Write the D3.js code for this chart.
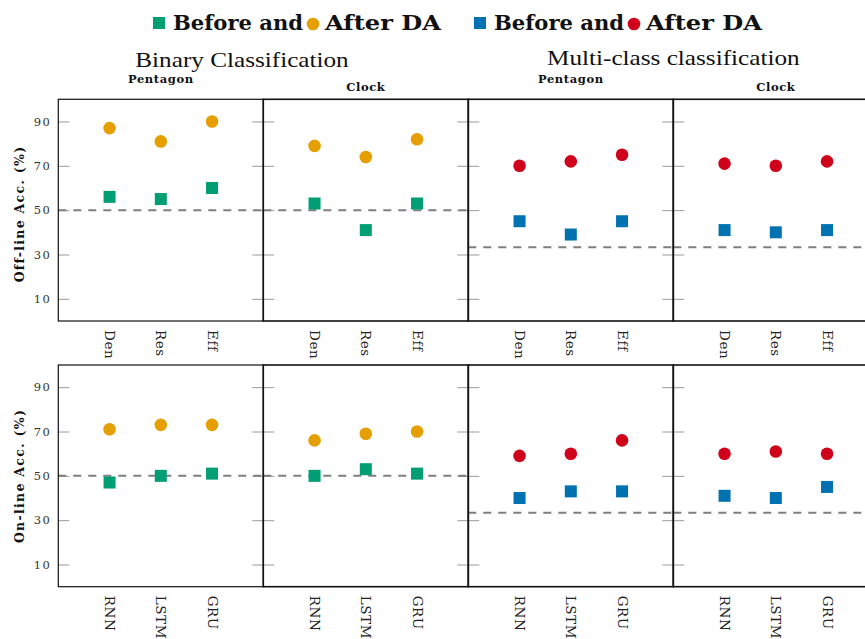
<!DOCTYPE html>
<html lang="en">
<head>
<meta charset="utf-8">
<title>Before / After DA accuracy</title>
<script src="https://cdn.jsdelivr.net/npm/d3@7"></script>
<style>
  body { margin: 0; background: #fff; }
  svg { display: block; }
  .serif { font-family: "DejaVu Serif", serif; }
  .roman { font-family: "Liberation Serif", "Times New Roman", serif; }
</style>
</head>
<body>
<div id="chart"></div>
<script>
// values (accuracy in %)
const panelTitles = ["Pentagon", "Clock", "Pentagon", "Clock"]
const groupTitles = ["Binary Classification", "Multi-class classification"]
const rowTitles = ["Off-line Acc. (%)", "On-line Acc. (%)"]
const offlineModels = ["Den", "Res", "Eff"]
const onlineModels = ["RNN", "LSTM", "GRU"]
const yTicks = [10, 30, 50, 70, 90]

const offBefore = [[56, 55, 60], [53, 41, 53], [45, 39, 45], [41, 40, 41]]
const offAfter  = [[87, 81, 90], [79, 74, 82], [70, 72, 75], [71, 70, 72]]
const onBefore  = [[47, 50, 51], [50, 53, 51], [40, 43, 43], [41, 40, 45]]
const onAfter   = [[71, 73, 73], [66, 69, 70], [59, 60, 66], [60, 61, 60]]
// chance level per panel
const chance = [50, 50, 33.3, 33.3]

const beforeColors = ["#009E73", "#009E73", "#0072B2", "#0072B2"]
const afterColors  = ["#E69F00", "#E69F00", "#D0021B", "#D0021B"]

const W = 865, H = 639
const panelLeft = 58.3, panelW = 205
const rowTop = [99.3, 365], rowH = 221.7

const svg = d3.select("#chart").append("svg")
  .attr("width", W).attr("height", H)

const rows = [
  {models: offlineModels, before: offBefore, after: offAfter, title: rowTitles[0]},
  {models: onlineModels, before: onBefore, after: onAfter, title: rowTitles[1]}
]

rows.forEach((row, r) => {
  const yScale = d3.scaleLinear()
    .domain([0, 100])
    .range([rowTop[r] + rowH, rowTop[r]])

  for (let p = 0; p < 4; p++) {
    const x0 = panelLeft + p * panelW
    const xScale = d3.scaleLinear()
      .domain([0, 4])
      .range([x0, x0 + panelW])

    const g = svg.append("g")

    // inner ticks on both sides
    const left = g.append("g")
      .attr("transform", "translate(" + x0 + ",0)")
      .call(d3.axisLeft(yScale).tickValues(yTicks).tickSize(-11).tickPadding(7)
        .tickFormat(p == 0 ? d3.format("d") : ""))
    g.append("g")
      .attr("transform", "translate(" + (x0 + panelW) + ",0)")
      .call(d3.axisRight(yScale).tickValues(yTicks).tickSize(-11).tickFormat(""))
    g.selectAll(".domain").remove()
    g.selectAll(".tick line").attr("stroke", "#9a9a9a").attr("stroke-width", 1)
    left.selectAll("text")
      .attr("class", "serif")
      .attr("fill", "#333")
      .style("font-size", "11.5px")
      .style("letter-spacing", "1.5px")

    // chance level
    g.append("line")
      .attr("x1", xScale(0)).attr("x2", xScale(4))
      .attr("y1", yScale(chance[p])).attr("y2", yScale(chance[p]))
      .attr("stroke", "#7f7f7f")
      .attr("stroke-width", 2)
      .attr("stroke-dasharray", "8,7")

    // frame
    g.append("rect")
      .attr("x", xScale(0)).attr("y", yScale(100))
      .attr("width", xScale(4) - xScale(0))
      .attr("height", yScale(0) - yScale(100))
      .attr("fill", "none")
      .attr("stroke", "#111")
      .attr("stroke-width", p == 0 ? 1.2 : 1.6)

    // x labels
    const xAxis = g.append("g")
      .attr("transform", "translate(0," + yScale(0) + ")")
      .call(d3.axisBottom(xScale).tickValues([1, 2, 3]).tickSize(0)
        .tickFormat((d, i) => row.models[i]))
    xAxis.select(".domain").remove()
    xAxis.selectAll("text")
      .attr("class", "serif")
      .attr("fill", "#222")
      .attr("transform", "rotate(90)")
      .attr("x", 9).attr("y", 0).attr("dy", "0.36em")
      .style("text-anchor", "start")
      .style("font-size", "13.5px")
      .style("letter-spacing", "0.6px")

    const before = row.before[p], after = row.after[p]

    g.selectAll(".before")
      .data(before)
      .join("rect")
      .attr("class", "before")
      .attr("x", (d, i) => xScale(i + 1) - 6)
      .attr("y", d => yScale(d) - 6)
      .attr("width", 12).attr("height", 12)
      .attr("fill", beforeColors[p])

    g.selectAll(".after")
      .data(after)
      .join("circle")
      .attr("class", "after")
      .attr("cx", (d, i) => xScale(i + 1))
      .attr("cy", d => yScale(d))
      .attr("r", 6.3)
      .attr("fill", afterColors[p])

    if (r == 0) {
      svg.append("text")
        .attr("class", "serif")
        .attr("x", xScale(2))
        .attr("y", panelTitles[p] == "Clock" ? 91 : 83)
        .attr("text-anchor", "middle")
        .style("font-size", "11.5px")
        .style("font-weight", "bold")
        .style("letter-spacing", "0.6px")
        .attr("fill", "#111")
        .text(panelTitles[p])
    }
  }

  svg.append("text")
    .attr("class", "serif")
    .attr("transform", "translate(24," + (r == 0 ? 214 : 476) + ") rotate(-90)")
    .attr("text-anchor", "middle")
    .style("font-size", "12.5px")
    .style("font-weight", "bold")
    .style("letter-spacing", "1.3px")
    .attr("fill", "#111")
    .text(row.title)
})

// group titles (CM-like roman, slightly widened)
const groupX = [242, panelLeft + 3 * panelW]
const groupY = [67, 65]
groupTitles.forEach((t, i) => {
  svg.append("text")
    .attr("class", "roman")
    .attr("transform", "translate(" + groupX[i] + "," + groupY[i] + ") scale(1.2,1)")
    .attr("text-anchor", "middle")
    .style("font-size", "21px")
    .attr("fill", "#111")
    .text(t)
})

// legend, laid out left to right
const legendItems = [
  {shape: "square", color: beforeColors[0], label: "Before and"},
  {shape: "circle", color: afterColors[0], label: "After DA"},
  {shape: "square", color: beforeColors[2], label: "Before and"},
  {shape: "circle", color: afterColors[2], label: "After DA"}
]
const legend = svg.append("g")
let lx = 153
legendItems.forEach((item, i) => {
  if (item.shape == "square") {
    legend.append("rect")
      .attr("x", lx).attr("y", 17).attr("width", 12).attr("height", 12)
      .attr("fill", item.color)
  } else {
    legend.append("circle")
      .attr("cx", lx + 6).attr("cy", 24).attr("r", 6.3)
      .attr("fill", item.color)
  }
  lx += 12 + (item.shape == "square" ? 8 : 6)
  const len = item.shape == "square" ? 130 : 116
  legend.append("text")
    .attr("class", "serif")
    .attr("x", lx).attr("y", 30)
    .attr("textLength", len)
    .attr("lengthAdjust", "spacingAndGlyphs")
    .style("font-size", "20px")
    .style("font-weight", "bold")
    .attr("fill", "#111")
    .text(item.label)
  lx += len + (i == 1 ? 33 : 4)
})
</script>
</body>
</html>
